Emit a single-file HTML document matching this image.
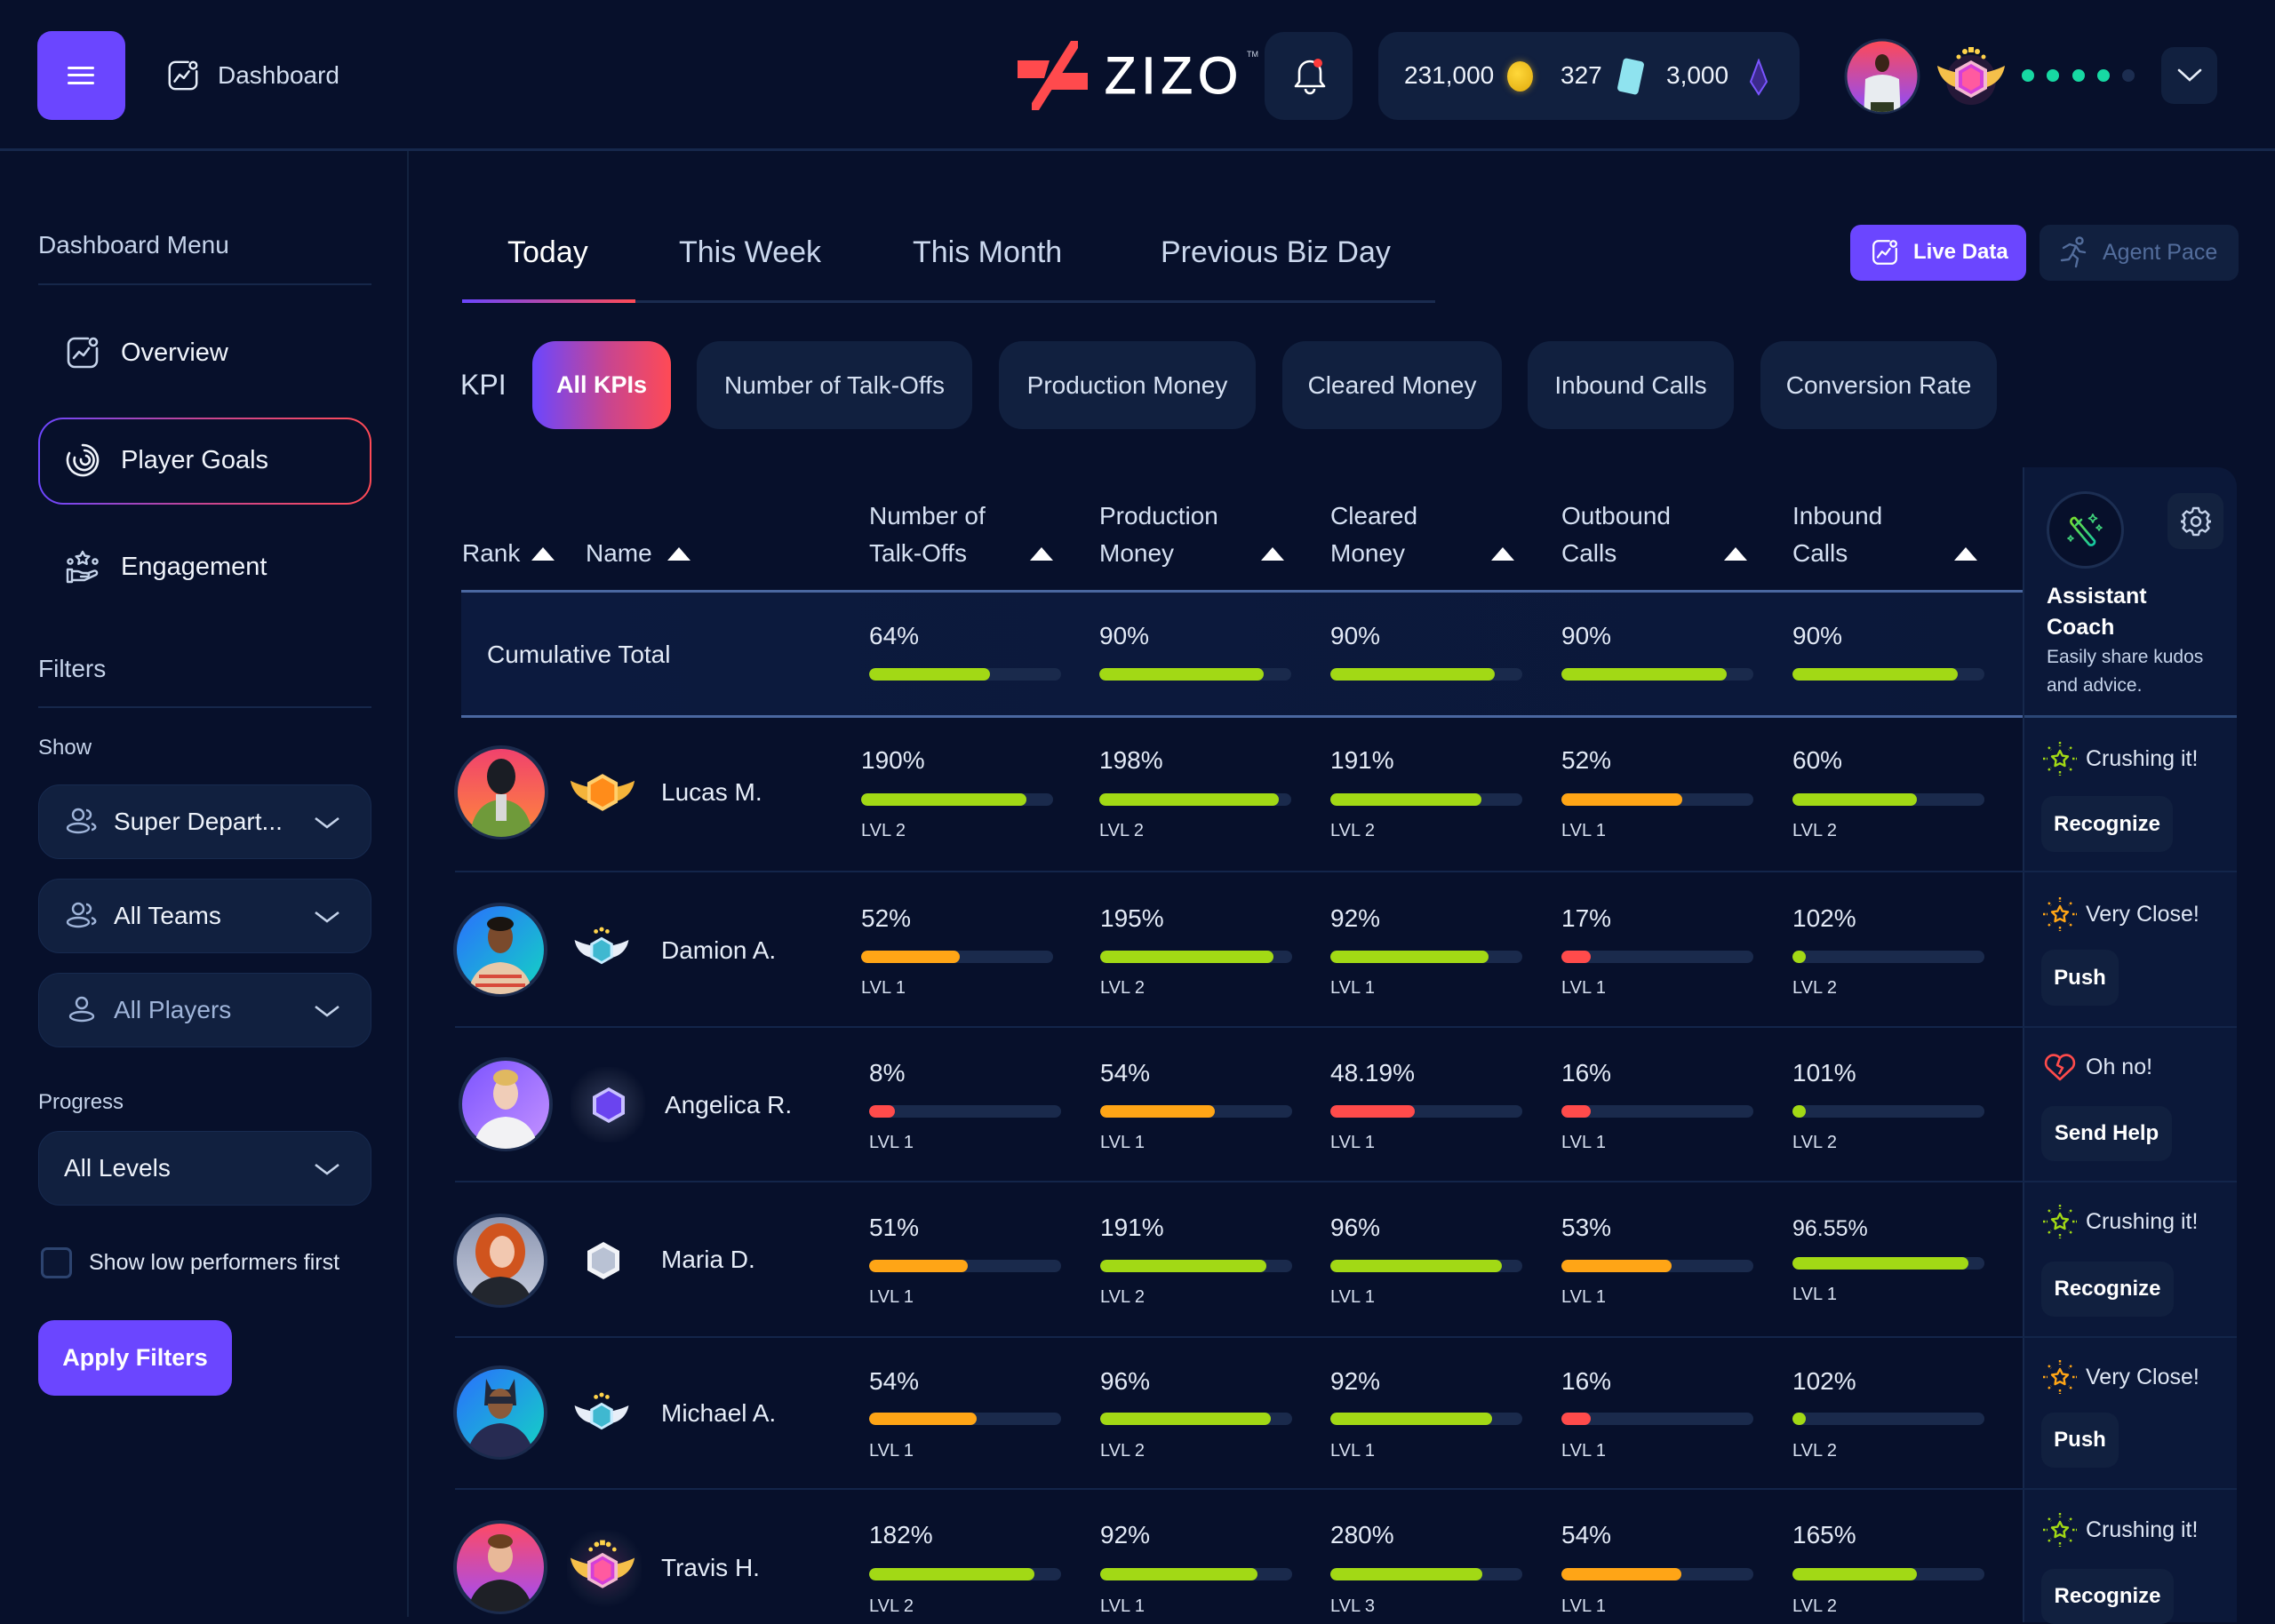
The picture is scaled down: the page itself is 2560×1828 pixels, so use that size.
<!DOCTYPE html>
<html><head><meta charset="utf-8">
<style>
*{box-sizing:border-box;margin:0;padding:0}
body{width:2560px;height:1820px;background:#07102b;overflow:hidden;position:relative;font-family:"Liberation Sans",sans-serif;color:#dfe7f5}
.a{position:absolute}
.t{position:absolute;white-space:nowrap;height:40px;line-height:40px}
.p{font-size:28px;color:#e3eaf6}
.l{font-size:20px;color:#d8e1f1}
.tr{position:absolute;height:14px;width:216px;border-radius:7px;background:#1a2a4c;overflow:hidden}
.f{position:absolute;left:0;top:0;height:14px;border-radius:7px}
.g{background:#a2d915}.o{background:#ffa516}.r{background:#ff4b4b}
.dd{position:absolute;left:43px;width:375px;height:84px;background:#11203f;border:1px solid #172a4f;border-radius:24px}
.dd .tx{position:absolute;left:84px;top:0;line-height:82px;font-size:28px;color:#eef3fb;white-space:nowrap}
.dd svg.ic{position:absolute;left:29px;top:24px}
.dd svg.ch{position:absolute;left:309px;top:35px}
.pill{position:absolute;top:384px;height:99px;border-radius:26px;background:#11203f;font-size:28px;color:#d5e0f2;line-height:99px;text-align:center;white-space:nowrap}
.tri{position:absolute;width:0;height:0;border-left:13px solid transparent;border-right:13px solid transparent;border-bottom:15px solid #fff}
.sep{position:absolute;left:512px;width:2005px;height:2px;background:#13254a}
.btn{position:absolute;left:2297px;height:62px;background:#11203f;border-radius:14px;font-size:24px;font-weight:bold;color:#fff;line-height:62px;text-align:center}
.hd{font-size:28px;color:#d5e0f2}
.nm{font-size:28px;color:#e6edf8}
.st{font-size:25px;color:#dfe7f5}
.tab{position:absolute;top:259px;height:50px;line-height:50px;font-size:34px;color:#cbd8ee;white-space:nowrap}
.av{position:absolute;width:108px;height:108px}
</style></head><body>

<!-- HEADER -->
<div class="a" style="left:0;top:167px;width:2560px;height:3px;background:#16284c"></div>
<div class="a" style="left:42px;top:35px;width:99px;height:100px;background:#6b46ff;border-radius:16px"></div>
<div class="a" style="left:76px;top:75px;width:30px;height:3px;background:#fff;border-radius:2px"></div>
<div class="a" style="left:76px;top:83px;width:30px;height:3px;background:#fff;border-radius:2px"></div>
<div class="a" style="left:76px;top:92px;width:30px;height:3px;background:#fff;border-radius:2px"></div>
<svg class="a" style="left:187px;top:66px" width="38" height="38" viewBox="0 0 40 40" fill="none" stroke="#e6edf8" stroke-width="2.6" stroke-linecap="round" stroke-linejoin="round"><path d="M26 4H11a7 7 0 0 0-7 7v18a7 7 0 0 0 7 7h18a7 7 0 0 0 7-7V15"/><circle cx="32" cy="8" r="4"/><path d="M10 27l6-8 5 4 6-8"/></svg>
<div class="t" style="left:245px;top:65px;font-size:28px;color:#d3def0">Dashboard</div>

<!-- logo -->
<svg class="a" style="left:1145px;top:46px" width="80" height="80" viewBox="0 0 80 80"><polygon points="0,22 36,22 30,42 0,42" fill="#ff4a4d"/><polygon points="44,36 79,36 79,55 38,55" fill="#ff4a4d"/><polygon points="60,0 68,0 68,8 24,78 16,78 16,70" fill="#ff4a4d"/></svg>
<div class="t" style="left:1243px;top:58px;height:56px;line-height:56px;font-size:58px;color:#fff;letter-spacing:6px;-webkit-text-stroke:1px #fff">ZIZO</div>
<div class="t" style="left:1403px;top:54px;height:14px;line-height:14px;font-size:9px;color:#cfd8e8">TM</div>

<div class="a" style="left:1423px;top:36px;width:99px;height:99px;background:#11203f;border-radius:22px"></div>
<svg class="a" style="left:1452px;top:62px" width="44" height="46" viewBox="0 0 44 46" fill="none" stroke="#fff" stroke-width="2.6" stroke-linejoin="round"><path d="M10 30V19a12 12 0 0 1 24 0v11l4 5H6z"/><path d="M17 38a5 5 0 0 0 10 0"/><circle cx="31" cy="9" r="5" fill="#ff3b3b" stroke="none"/></svg>

<div class="a" style="left:1551px;top:36px;width:474px;height:99px;background:#11203f;border-radius:22px"></div>
<div class="t" style="left:1580px;top:65px;font-size:28px;color:#eef3fb">231,000</div>
<div class="a" style="left:1696px;top:69px;width:29px;height:34px;border-radius:50%;background:radial-gradient(circle at 40% 40%,#ffd83a,#e0a90c);box-shadow:0 0 8px rgba(255,200,40,.5)"></div>
<div class="t" style="left:1756px;top:65px;font-size:28px;color:#eef3fb">327</div>
<div class="a" style="left:1823px;top:67px;width:24px;height:38px;border-radius:4px;background:#8fe3ef;transform:rotate(12deg)"></div>
<div class="t" style="left:1875px;top:65px;font-size:28px;color:#eef3fb">3,000</div>
<svg class="a" style="left:1966px;top:66px" width="26" height="42" viewBox="0 0 26 42"><path d="M13 2L22 26 13 40 4 26z" fill="#3c2a8c" stroke="#7a55ff" stroke-width="2"/></svg>

<svg class="a" style="left:2075px;top:43px" width="86" height="86" viewBox="0 0 86 86"><defs><linearGradient id="ha" x1="0" y1="0" x2="0" y2="1"><stop offset="0" stop-color="#ff4a55"/><stop offset="1" stop-color="#8b4dff"/></linearGradient><clipPath id="hc"><circle cx="43" cy="43" r="40"/></clipPath></defs><circle cx="43" cy="43" r="41" fill="url(#ha)" stroke="#1b2b4d" stroke-width="3"/><g clip-path="url(#hc)"><ellipse cx="43" cy="28" rx="8" ry="10" fill="#3a2418"/><path d="M22 90 L24 46 Q43 36 62 46 L64 90z" fill="#e8ecf0"/><rect x="30" y="72" width="26" height="20" fill="#2f3a22"/></g></svg>
<svg class="a" style="left:2178px;top:52px" width="80" height="66" viewBox="0 0 80 66"><circle cx="40" cy="38" r="28" fill="#ff4fa0" opacity=".12"/><path d="M26 30C16 28 8 25 2 22 4 34 12 44 26 47z" fill="#f5c04a"/><path d="M54 30C64 28 72 25 78 22 76 34 68 44 54 47z" fill="#f5c04a"/><polygon points="40,16 58,26 58,48 40,58 22,48 22,26" fill="#f3b8d0"/><polygon points="40,20 54,28 54,46 40,54 26,46 26,28" fill="#d43fd8"/><polygon points="40,24 50,30 50,44 40,50 30,44 30,30" fill="#ff5aa0"/><circle cx="26" cy="12" r="2.5" fill="#ffd34a"/><circle cx="33" cy="6" r="3" fill="#ffd34a"/><rect x="37" y="1" width="6" height="6" fill="#ffd34a"/><circle cx="47" cy="6" r="3" fill="#ffd34a"/><circle cx="54" cy="12" r="2.5" fill="#ffd34a"/></svg>
<div class="a" style="left:2275px;top:78px;width:14px;height:14px;border-radius:50%;background:#17d9a3"></div>
<div class="a" style="left:2303px;top:78px;width:14px;height:14px;border-radius:50%;background:#17d9a3"></div>
<div class="a" style="left:2332px;top:78px;width:14px;height:14px;border-radius:50%;background:#17d9a3"></div>
<div class="a" style="left:2360px;top:78px;width:14px;height:14px;border-radius:50%;background:#17d9a3"></div>
<div class="a" style="left:2388px;top:78px;width:14px;height:14px;border-radius:50%;background:#1c2d50"></div>
<div class="a" style="left:2432px;top:53px;width:63px;height:64px;background:#11203f;border-radius:14px"></div>
<svg class="a" style="left:2450px;top:77px" width="28" height="16" viewBox="0 0 28 16"><path d="M2 2l12 11 12-11" stroke="#e6edf8" stroke-width="2.6" fill="none" stroke-linecap="round"/></svg>

<!-- SIDEBAR -->
<div class="a" style="left:458px;top:170px;width:2px;height:1650px;background:#13223f"></div>
<div class="t" style="left:43px;top:256px;font-size:28px;color:#c5d3ea">Dashboard Menu</div>
<div class="a" style="left:43px;top:319px;width:375px;height:2px;background:#16274a"></div>

<svg class="a" style="left:73px;top:377px" width="40" height="40" viewBox="0 0 40 40" fill="none" stroke="#c5d3ea" stroke-width="2.6" stroke-linecap="round" stroke-linejoin="round"><path d="M26 4H11a7 7 0 0 0-7 7v18a7 7 0 0 0 7 7h18a7 7 0 0 0 7-7V15"/><circle cx="32" cy="8" r="4"/><path d="M10 26l6-7 5 4 6-8"/></svg>
<div class="t" style="left:136px;top:377px;font-size:29px;color:#f0f4fb">Overview</div>

<div class="a" style="left:43px;top:470px;width:375px;height:98px;border-radius:28px;border:2px solid transparent;background:linear-gradient(#07102b,#07102b) padding-box,linear-gradient(90deg,#6b46ff,#c84590 50%,#ff4a55) border-box"></div>
<svg class="a" style="left:73px;top:498px" width="40" height="40" viewBox="0 0 40 40" fill="none" stroke="#f0f4fb" stroke-width="2.6" stroke-linecap="round"><path d="M20 3a17 17 0 1 1-15 9"/><path d="M22 9a11 11 0 1 1-11 8"/><path d="M24 15a5 5 0 1 1-6 4"/></svg>
<div class="t" style="left:136px;top:498px;font-size:29px;color:#f0f4fb">Player Goals</div>

<svg class="a" style="left:73px;top:618px" width="40" height="40" viewBox="0 0 40 40" fill="none" stroke="#c5d3ea" stroke-width="2.4" stroke-linecap="round" stroke-linejoin="round"><path d="M20 3l2.4 4.6 5 .7-3.6 3.5.9 5-4.7-2.4-4.7 2.4.9-5-3.6-3.5 5-.7z"/><circle cx="6" cy="14" r="2.6"/><circle cx="34" cy="14" r="2.6"/><path d="M3 23h5v14H3z"/><path d="M8 25h6c3 0 4 2 7 2h4a2 2 0 0 1 0 4h-7"/><path d="M8 35h14l13-6a2.5 2.5 0 0 0-2-4.5l-8 3"/></svg>
<div class="t" style="left:136px;top:618px;font-size:29px;color:#f0f4fb">Engagement</div>

<div class="t" style="left:43px;top:733px;font-size:28px;color:#c5d3ea">Filters</div>
<div class="a" style="left:43px;top:795px;width:375px;height:2px;background:#16274a"></div>
<div class="t" style="left:43px;top:822px;font-size:24px;color:#c5d3ea">Show</div>

<div class="dd" style="top:883px"><svg class="ic" width="38" height="32" viewBox="0 0 38 32" fill="none" stroke="#9fb4d9" stroke-width="2.4"><circle cx="15" cy="9" r="6"/><ellipse cx="15" cy="24" rx="12" ry="5"/><path d="M24 4a5 5 0 0 1 0 10"/><path d="M30 19c3 1 5 3 4 5-1 1-2 2-4 2"/></svg><div class="tx">Super Depart...</div><svg class="ch" width="30" height="14" viewBox="0 0 30 14"><path d="M2 2l13 10 13-10" stroke="#c5d3ea" stroke-width="2.6" fill="none"/></svg></div>
<div class="dd" style="top:989px"><svg class="ic" width="38" height="32" viewBox="0 0 38 32" fill="none" stroke="#9fb4d9" stroke-width="2.4"><circle cx="15" cy="9" r="6"/><ellipse cx="15" cy="24" rx="12" ry="5"/><path d="M24 4a5 5 0 0 1 0 10"/><path d="M30 19c3 1 5 3 4 5-1 1-2 2-4 2"/></svg><div class="tx">All Teams</div><svg class="ch" width="30" height="14" viewBox="0 0 30 14"><path d="M2 2l13 10 13-10" stroke="#c5d3ea" stroke-width="2.6" fill="none"/></svg></div>
<div class="dd" style="top:1095px"><svg class="ic" width="38" height="32" viewBox="0 0 38 32" fill="none" stroke="#9fb4d9" stroke-width="2.4"><circle cx="19" cy="9" r="6"/><ellipse cx="19" cy="24" rx="13" ry="5"/></svg><div class="tx" style="color:#9fb4d9">All Players</div><svg class="ch" width="30" height="14" viewBox="0 0 30 14"><path d="M2 2l13 10 13-10" stroke="#c5d3ea" stroke-width="2.6" fill="none"/></svg></div>

<div class="t" style="left:43px;top:1221px;font-size:24px;color:#c5d3ea">Progress</div>
<div class="dd" style="top:1273px"><div class="tx" style="left:28px">All Levels</div><svg class="ch" width="30" height="14" viewBox="0 0 30 14"><path d="M2 2l13 10 13-10" stroke="#c5d3ea" stroke-width="2.6" fill="none"/></svg></div>

<div class="a" style="left:46px;top:1404px;width:35px;height:35px;border:3px solid #2d4470;border-radius:7px;background:#0b1633"></div>
<div class="t" style="left:100px;top:1401px;font-size:25px;color:#dfe7f5">Show low performers first</div>
<div class="a" style="left:43px;top:1486px;width:218px;height:85px;background:#6b46ff;border-radius:18px;color:#fff;font-weight:bold;font-size:27px;line-height:85px;text-align:center">Apply Filters</div>

<!-- MAIN TABS -->
<div class="tab" style="left:571px;color:#fff">Today</div>
<div class="tab" style="left:764px">This Week</div>
<div class="tab" style="left:1027px">This Month</div>
<div class="tab" style="left:1306px">Previous Biz Day</div>
<div class="a" style="left:520px;top:338px;width:1095px;height:3px;background:#1a2b4f"></div>
<div class="a" style="left:520px;top:337px;width:195px;height:4px;background:linear-gradient(90deg,#6b46ff,#ff4a55)"></div>

<div class="a" style="left:2082px;top:253px;width:198px;height:63px;background:#6b46ff;border-radius:12px"></div>
<svg class="a" style="left:2105px;top:268px" width="32" height="32" viewBox="0 0 40 40" fill="none" stroke="#fff" stroke-width="2.8" stroke-linecap="round" stroke-linejoin="round"><path d="M26 4H11a7 7 0 0 0-7 7v18a7 7 0 0 0 7 7h18a7 7 0 0 0 7-7V15"/><circle cx="32" cy="8" r="4"/><path d="M10 27l6-8 5 4 6-8"/></svg>
<div class="t" style="left:2153px;top:264px;font-size:24px;font-weight:bold;color:#fff">Live Data</div>
<div class="a" style="left:2295px;top:253px;width:224px;height:63px;background:#11203f;border-radius:12px"></div>
<svg class="a" style="left:2318px;top:266px" width="32" height="36" viewBox="0 0 32 36" fill="none" stroke="#536d9c" stroke-width="2.4" stroke-linecap="round" stroke-linejoin="round"><circle cx="22" cy="5" r="3.5"/><path d="M4 13l7-4 7 2-4 9 6 5-2 9"/><path d="M14 20l-4 6-8 1"/><path d="M18 11l4 6 6 1"/></svg>
<div class="t" style="left:2366px;top:264px;font-size:25px;color:#536d9c">Agent Pace</div>

<!-- KPI PILLS -->
<div class="t" style="left:518px;top:408px;height:50px;line-height:50px;font-size:32px;color:#d5e0f2">KPI</div>
<div class="pill" style="left:599px;width:156px;background:linear-gradient(90deg,#6b46ff,#c84590 55%,#ff4a55);color:#fff;font-weight:bold;font-size:27px">All KPIs</div>
<div class="pill" style="left:784px;width:310px">Number of Talk-Offs</div>
<div class="pill" style="left:1124px;width:289px">Production Money</div>
<div class="pill" style="left:1443px;width:247px">Cleared Money</div>
<div class="pill" style="left:1719px;width:232px">Inbound Calls</div>
<div class="pill" style="left:1981px;width:266px">Conversion Rate</div>

<!-- RIGHT PANEL -->
<div class="a" style="left:2276px;top:526px;width:241px;height:1300px;background:#0b1839;border-top-right-radius:22px;border-left:2px solid #16284c"></div>

<!-- TABLE HEADER -->
<div class="t hd" style="left:520px;top:603px">Rank</div><div class="tri" style="left:598px;top:616px"></div>
<div class="t hd" style="left:659px;top:603px">Name</div><div class="tri" style="left:751px;top:616px"></div>
<div class="t hd" style="left:978px;top:561px">Number of</div><div class="t hd" style="left:978px;top:603px">Talk-Offs</div><div class="tri" style="left:1159px;top:616px"></div>
<div class="t hd" style="left:1237px;top:561px">Production</div><div class="t hd" style="left:1237px;top:603px">Money</div><div class="tri" style="left:1419px;top:616px"></div>
<div class="t hd" style="left:1497px;top:561px">Cleared</div><div class="t hd" style="left:1497px;top:603px">Money</div><div class="tri" style="left:1678px;top:616px"></div>
<div class="t hd" style="left:1757px;top:561px">Outbound</div><div class="t hd" style="left:1757px;top:603px">Calls</div><div class="tri" style="left:1940px;top:616px"></div>
<div class="t hd" style="left:2017px;top:561px">Inbound</div><div class="t hd" style="left:2017px;top:603px">Calls</div><div class="tri" style="left:2199px;top:616px"></div>

<!-- assistant coach -->
<div class="a" style="left:2303px;top:553px;width:87px;height:87px;border-radius:50%;border:3px solid #1c2e52;background:#07102b"></div>
<svg class="a" style="left:2325px;top:575px" width="44" height="44" viewBox="0 0 44 44" fill="none" stroke-width="2.6" stroke-linecap="round" stroke-linejoin="round"><defs><linearGradient id="wg" x1="0" y1="0" x2="1" y2="1"><stop offset="0" stop-color="#7be02c"/><stop offset="1" stop-color="#12c9a6"/></linearGradient></defs><path d="M10 8l22 26a4 4 0 0 1-6 4L6 14a4 4 0 0 1 4-6z" stroke="url(#wg)"/><path d="M11 16l6-6" stroke="url(#wg)"/><path d="M30 4l1.5 3 3 1.5-3 1.5-1.5 3-1.5-3-3-1.5 3-1.5z" stroke="#3fd07a" stroke-width="1.8"/><path d="M37 16l1 2 2 1-2 1-1 2-1-2-2-1 2-1z" stroke="#3fd07a" stroke-width="1.6"/><path d="M5 28l1 2 2 1-2 1-1 2-1-2-2-1 2-1z" stroke="#3fd07a" stroke-width="1.6"/></svg>
<div class="a" style="left:2439px;top:555px;width:63px;height:63px;background:#13223f;border-radius:14px"></div>
<svg class="a" style="left:2454px;top:570px" width="34" height="34" viewBox="0 0 34 34" fill="none" stroke="#c5d3ea" stroke-width="2.4" stroke-linejoin="round"><path d="M14 2h6l1 4 3 1.5 3.5-2 4 4-2 3.5L30.5 16l3.5 1v0-0 0h0v0l0 0 0 0-0 0v0l0 0v0l0 0 0 0-.0 0V17l-.0 .0L30.5 18 29.5 21l2 3.5-4 4-3.5-2L21 28l-1 4h-6l-1-4-3-1.5-3.5 2-4-4 2-3.5L3.5 18 0 17v0l0-0V17l3.5-1L4.5 13l-2-3.5 4-4 3.5 2L13 6z"/><circle cx="17" cy="17" r="5"/></svg>
<div class="t" style="left:2303px;top:651px;font-size:25px;font-weight:bold;color:#fff">Assistant</div>
<div class="t" style="left:2303px;top:686px;font-size:25px;font-weight:bold;color:#fff">Coach</div>
<div class="t" style="left:2303px;top:720px;font-size:21px;color:#c5d3ea">Easily share kudos</div>
<div class="t" style="left:2303px;top:752px;font-size:21px;color:#c5d3ea">and advice.</div>

<!-- cumulative row -->
<div class="a" style="left:519px;top:666px;width:1757px;height:140px;background:linear-gradient(90deg,#0c1a3e,#0b1839)"></div>
<div class="a" style="left:519px;top:664px;width:1757px;height:3px;background:#4a67a0"></div>
<div class="a" style="left:519px;top:805px;width:1757px;height:3px;background:#4a67a0"></div>
<div class="a" style="left:2278px;top:805px;width:239px;height:3px;background:#2b4675"></div>
<div class="t p" style="left:548px;top:717px">Cumulative Total</div>
<div class="t p" style="left:978px;top:696px">64%</div><div class="tr" style="left:978px;top:752px"><div class="f g" style="width:136px"></div></div>
<div class="t p" style="left:1237px;top:696px">90%</div><div class="tr" style="left:1237px;top:752px"><div class="f g" style="width:185px"></div></div>
<div class="t p" style="left:1497px;top:696px">90%</div><div class="tr" style="left:1497px;top:752px"><div class="f g" style="width:185px"></div></div>
<div class="t p" style="left:1757px;top:696px">90%</div><div class="tr" style="left:1757px;top:752px"><div class="f g" style="width:186px"></div></div>
<div class="t p" style="left:2017px;top:696px">90%</div><div class="tr" style="left:2017px;top:752px"><div class="f g" style="width:186px"></div></div>

<!-- separators -->
<div class="sep" style="top:980px"></div>
<div class="sep" style="top:1155px"></div>
<div class="sep" style="top:1329px"></div>
<div class="sep" style="top:1504px"></div>
<div class="sep" style="top:1675px"></div>

<!-- ROW 1 Lucas -->
<svg class="av" style="left:510px;top:838px" viewBox="0 0 108 108"><defs><linearGradient id="a1" x1="0" y1="0" x2="0" y2="1"><stop offset="0" stop-color="#f0406e"/><stop offset="1" stop-color="#ff8a3a"/></linearGradient><clipPath id="c1"><circle cx="54" cy="54" r="50"/></clipPath></defs><circle cx="54" cy="54" r="51" fill="url(#a1)" stroke="#1b2b4d" stroke-width="4"/><g clip-path="url(#c1)"><ellipse cx="54" cy="36" rx="16" ry="20" fill="#1a1d24"/><path d="M18 112 Q20 64 54 62 Q88 64 90 112z" fill="#6f9a3a"/><rect x="48" y="56" width="12" height="30" fill="#d8d8d8"/></g></svg>
<svg class="a" style="left:640px;top:862px" width="76" height="60" viewBox="0 0 80 60"><path d="M26 24C16 22 8 19 2 16 4 28 12 38 26 41z" fill="#f4b43a"/><path d="M54 24C64 22 72 19 78 16 76 28 68 38 54 41z" fill="#f4b43a"/><polygon points="40,8 58,18 58,42 40,52 22,42 22,18" fill="#ffce6a"/><polygon points="40,13 54,21 54,39 40,47 26,39 26,21" fill="#ff8c1a"/></svg>
<div class="t nm" style="left:744px;top:872px">Lucas M.</div>
<div class="t p" style="left:969px;top:836px">190%</div><div class="tr" style="left:969px;top:893px"><div class="f g" style="width:186px"></div></div><div class="t l" style="left:969px;top:915px">LVL 2</div>
<div class="t p" style="left:1237px;top:836px">198%</div><div class="tr" style="left:1237px;top:893px"><div class="f g" style="width:202px"></div></div><div class="t l" style="left:1237px;top:915px">LVL 2</div>
<div class="t p" style="left:1497px;top:836px">191%</div><div class="tr" style="left:1497px;top:893px"><div class="f g" style="width:170px"></div></div><div class="t l" style="left:1497px;top:915px">LVL 2</div>
<div class="t p" style="left:1757px;top:836px">52%</div><div class="tr" style="left:1757px;top:893px"><div class="f o" style="width:136px"></div></div><div class="t l" style="left:1757px;top:915px">LVL 1</div>
<div class="t p" style="left:2017px;top:836px">60%</div><div class="tr" style="left:2017px;top:893px"><div class="f g" style="width:140px"></div></div><div class="t l" style="left:2017px;top:915px">LVL 2</div>

<!-- ROW 2 Damion -->
<svg class="av" style="left:509px;top:1015px" viewBox="0 0 108 108"><defs><linearGradient id="a2" x1="0" y1="0" x2="1" y2="1"><stop offset="0" stop-color="#2a6dff"/><stop offset="1" stop-color="#13d6c2"/></linearGradient><clipPath id="c2"><circle cx="54" cy="54" r="50"/></clipPath></defs><circle cx="54" cy="54" r="51" fill="url(#a2)" stroke="#1b2b4d" stroke-width="4"/><g clip-path="url(#c2)"><ellipse cx="54" cy="40" rx="14" ry="18" fill="#7a4a2c"/><ellipse cx="54" cy="25" rx="15" ry="8" fill="#1a1410"/><path d="M16 112 Q20 70 54 68 Q88 70 92 112z" fill="#e8c8a8"/><path d="M30 84h48M26 94h56" stroke="#d84a3a" stroke-width="4"/></g></svg>
<svg class="a" style="left:645px;top:1040px" width="64" height="52" viewBox="0 0 80 60"><path d="M26 28C16 26 8 23 2 20 4 32 12 42 26 45z" fill="#e8eef8"/><path d="M54 28C64 26 72 23 78 20 76 32 68 42 54 45z" fill="#e8eef8"/><polygon points="40,16 56,25 56,45 40,54 24,45 24,25" fill="#c7ecff"/><polygon points="40,20 52,27 52,43 40,50 28,43 28,27" fill="#3fb8d0"/><circle cx="32" cy="8" r="3" fill="#ffd34a"/><circle cx="40" cy="5" r="3.2" fill="#ffd34a"/><circle cx="48" cy="8" r="3" fill="#ffd34a"/></svg>
<div class="t nm" style="left:744px;top:1050px">Damion A.</div>
<div class="t p" style="left:969px;top:1014px">52%</div><div class="tr" style="left:969px;top:1070px"><div class="f o" style="width:111px"></div></div><div class="t l" style="left:969px;top:1092px">LVL 1</div>
<div class="t p" style="left:1238px;top:1014px">195%</div><div class="tr" style="left:1238px;top:1070px"><div class="f g" style="width:195px"></div></div><div class="t l" style="left:1238px;top:1092px">LVL 2</div>
<div class="t p" style="left:1497px;top:1014px">92%</div><div class="tr" style="left:1497px;top:1070px"><div class="f g" style="width:178px"></div></div><div class="t l" style="left:1497px;top:1092px">LVL 1</div>
<div class="t p" style="left:1757px;top:1014px">17%</div><div class="tr" style="left:1757px;top:1070px"><div class="f r" style="width:33px"></div></div><div class="t l" style="left:1757px;top:1092px">LVL 1</div>
<div class="t p" style="left:2017px;top:1014px">102%</div><div class="tr" style="left:2017px;top:1070px"><div class="f g" style="width:15px"></div></div><div class="t l" style="left:2017px;top:1092px">LVL 2</div>

<!-- ROW 3 Angelica -->
<svg class="av" style="left:515px;top:1189px" viewBox="0 0 108 108"><defs><linearGradient id="a3" x1="0" y1="0" x2="1" y2="1"><stop offset="0" stop-color="#7a52ff"/><stop offset="1" stop-color="#c694ff"/></linearGradient><clipPath id="c3"><circle cx="54" cy="54" r="50"/></clipPath></defs><circle cx="54" cy="54" r="51" fill="url(#a3)" stroke="#1b2b4d" stroke-width="4"/><g clip-path="url(#c3)"><ellipse cx="54" cy="42" rx="14" ry="18" fill="#f0cdb8"/><ellipse cx="54" cy="24" rx="14" ry="9" fill="#e0b860"/><path d="M16 112 Q20 70 54 68 Q88 70 92 112z" fill="#f2f2f4"/></g></svg>
<div class="a" style="left:642px;top:1201px;width:84px;height:85px;background:radial-gradient(circle,rgba(200,210,255,.22),rgba(255,255,255,.04) 60%,rgba(255,255,255,0) 75%)"></div>
<svg class="a" style="left:664px;top:1222px" width="42" height="44" viewBox="0 0 42 44"><polygon points="21,2 39,12 39,32 21,42 3,32 3,12" fill="#c8c0ff"/><polygon points="21,6 35,14 35,30 21,38 7,30 7,14" fill="#6a44ef"/></svg>
<div class="t nm" style="left:748px;top:1224px">Angelica R.</div>
<div class="t p" style="left:978px;top:1188px">8%</div><div class="tr" style="left:978px;top:1244px"><div class="f r" style="width:29px"></div></div><div class="t l" style="left:978px;top:1266px">LVL 1</div>
<div class="t p" style="left:1238px;top:1188px">54%</div><div class="tr" style="left:1238px;top:1244px"><div class="f o" style="width:129px"></div></div><div class="t l" style="left:1238px;top:1266px">LVL 1</div>
<div class="t p" style="left:1497px;top:1188px">48.19%</div><div class="tr" style="left:1497px;top:1244px"><div class="f r" style="width:95px"></div></div><div class="t l" style="left:1497px;top:1266px">LVL 1</div>
<div class="t p" style="left:1757px;top:1188px">16%</div><div class="tr" style="left:1757px;top:1244px"><div class="f r" style="width:33px"></div></div><div class="t l" style="left:1757px;top:1266px">LVL 1</div>
<div class="t p" style="left:2017px;top:1188px">101%</div><div class="tr" style="left:2017px;top:1244px"><div class="f g" style="width:15px"></div></div><div class="t l" style="left:2017px;top:1266px">LVL 2</div>

<!-- ROW 4 Maria -->
<svg class="av" style="left:509px;top:1365px" viewBox="0 0 108 108"><defs><linearGradient id="a4" x1="0" y1="0" x2="0" y2="1"><stop offset="0" stop-color="#8a94b0"/><stop offset="1" stop-color="#c8cede"/></linearGradient><clipPath id="c4"><circle cx="54" cy="54" r="50"/></clipPath></defs><circle cx="54" cy="54" r="51" fill="url(#a4)" stroke="#1b2b4d" stroke-width="4"/><g clip-path="url(#c4)"><ellipse cx="54" cy="44" rx="28" ry="32" fill="#d0541e"/><ellipse cx="56" cy="44" rx="14" ry="18" fill="#f2c8b0"/><path d="M16 112 Q20 74 54 72 Q88 74 92 112z" fill="#22262e"/></g></svg>
<svg class="a" style="left:658px;top:1396px" width="42" height="46" viewBox="0 0 42 46"><polygon points="21,2 39,12 39,34 21,44 3,34 3,12" fill="#f2f4f8"/><polygon points="21,8 34,15 34,31 21,38 8,31 8,15" fill="#b9c2d4"/></svg>
<div class="t nm" style="left:744px;top:1398px">Maria D.</div>
<div class="t p" style="left:978px;top:1362px">51%</div><div class="tr" style="left:978px;top:1418px"><div class="f o" style="width:111px"></div></div><div class="t l" style="left:978px;top:1440px">LVL 1</div>
<div class="t p" style="left:1238px;top:1362px">191%</div><div class="tr" style="left:1238px;top:1418px"><div class="f g" style="width:187px"></div></div><div class="t l" style="left:1238px;top:1440px">LVL 2</div>
<div class="t p" style="left:1497px;top:1362px">96%</div><div class="tr" style="left:1497px;top:1418px"><div class="f g" style="width:193px"></div></div><div class="t l" style="left:1497px;top:1440px">LVL 1</div>
<div class="t p" style="left:1757px;top:1362px">53%</div><div class="tr" style="left:1757px;top:1418px"><div class="f o" style="width:124px"></div></div><div class="t l" style="left:1757px;top:1440px">LVL 1</div>
<div class="t p" style="left:2017px;top:1363px;font-size:25px">96.55%</div><div class="tr" style="left:2017px;top:1415px"><div class="f g" style="width:198px"></div></div><div class="t l" style="left:2017px;top:1437px">LVL 1</div>

<!-- ROW 5 Michael -->
<svg class="av" style="left:509px;top:1536px" viewBox="0 0 108 108"><defs><linearGradient id="a5" x1="0" y1="0" x2="1" y2="1"><stop offset="0" stop-color="#2a6dff"/><stop offset="1" stop-color="#13d6c2"/></linearGradient><clipPath id="c5"><circle cx="54" cy="54" r="50"/></clipPath></defs><circle cx="54" cy="54" r="51" fill="url(#a5)" stroke="#1b2b4d" stroke-width="4"/><g clip-path="url(#c5)"><path d="M38 16l6 12h20l6-12 2 30H36z" fill="#22283a"/><ellipse cx="54" cy="44" rx="14" ry="17" fill="#8a5a3a"/><path d="M38 36h32v8H38z" fill="#22283a"/><path d="M14 112 Q20 68 54 66 Q88 68 94 112z" fill="#272b52"/></g></svg>
<svg class="a" style="left:645px;top:1564px" width="64" height="52" viewBox="0 0 80 60"><path d="M26 28C16 26 8 23 2 20 4 32 12 42 26 45z" fill="#e8eef8"/><path d="M54 28C64 26 72 23 78 20 76 32 68 42 54 45z" fill="#e8eef8"/><polygon points="40,16 56,25 56,45 40,54 24,45 24,25" fill="#c7ecff"/><polygon points="40,20 52,27 52,43 40,50 28,43 28,27" fill="#3fb8d0"/><circle cx="32" cy="8" r="3" fill="#ffd34a"/><circle cx="40" cy="5" r="3.2" fill="#ffd34a"/><circle cx="48" cy="8" r="3" fill="#ffd34a"/></svg>
<div class="t nm" style="left:744px;top:1571px">Michael A.</div>
<div class="t p" style="left:978px;top:1535px">54%</div><div class="tr" style="left:978px;top:1590px"><div class="f o" style="width:121px"></div></div><div class="t l" style="left:978px;top:1613px">LVL 1</div>
<div class="t p" style="left:1238px;top:1535px">96%</div><div class="tr" style="left:1238px;top:1590px"><div class="f g" style="width:192px"></div></div><div class="t l" style="left:1238px;top:1613px">LVL 2</div>
<div class="t p" style="left:1497px;top:1535px">92%</div><div class="tr" style="left:1497px;top:1590px"><div class="f g" style="width:182px"></div></div><div class="t l" style="left:1497px;top:1613px">LVL 1</div>
<div class="t p" style="left:1757px;top:1535px">16%</div><div class="tr" style="left:1757px;top:1590px"><div class="f r" style="width:33px"></div></div><div class="t l" style="left:1757px;top:1613px">LVL 1</div>
<div class="t p" style="left:2017px;top:1535px">102%</div><div class="tr" style="left:2017px;top:1590px"><div class="f g" style="width:15px"></div></div><div class="t l" style="left:2017px;top:1613px">LVL 2</div>

<!-- ROW 6 Travis -->
<svg class="av" style="left:509px;top:1710px" viewBox="0 0 108 108"><defs><linearGradient id="a6" x1="0" y1="0" x2="0" y2="1"><stop offset="0" stop-color="#ff4a62"/><stop offset="1" stop-color="#9b4dff"/></linearGradient><clipPath id="c6"><circle cx="54" cy="54" r="50"/></clipPath></defs><circle cx="54" cy="54" r="51" fill="url(#a6)" stroke="#1b2b4d" stroke-width="4"/><g clip-path="url(#c6)"><ellipse cx="54" cy="42" rx="14" ry="18" fill="#e8b898"/><ellipse cx="54" cy="25" rx="14" ry="8" fill="#6a4020"/><path d="M16 112 Q20 70 54 68 Q88 70 92 112z" fill="#1e2026"/></g></svg>
<div class="a" style="left:638px;top:1722px;width:84px;height:86px;background:radial-gradient(circle,rgba(255,90,170,.22),rgba(255,255,255,.03) 60%,rgba(255,255,255,0) 75%)"></div>
<svg class="a" style="left:640px;top:1732px" width="76" height="64" viewBox="0 0 80 66"><path d="M26 30C16 28 8 25 2 22 4 34 12 44 26 47z" fill="#f5c04a"/><path d="M54 30C64 28 72 25 78 22 76 34 68 44 54 47z" fill="#f5c04a"/><polygon points="40,16 58,26 58,48 40,58 22,48 22,26" fill="#f3b8d0"/><polygon points="40,20 54,28 54,46 40,54 26,46 26,28" fill="#d43fd8"/><polygon points="40,24 50,30 50,44 40,50 30,44 30,30" fill="#ff5aa0"/><circle cx="26" cy="12" r="2.5" fill="#ffd34a"/><circle cx="33" cy="6" r="3" fill="#ffd34a"/><rect x="37" y="1" width="6" height="6" fill="#ffd34a"/><circle cx="47" cy="6" r="3" fill="#ffd34a"/><circle cx="54" cy="12" r="2.5" fill="#ffd34a"/></svg>
<div class="t nm" style="left:744px;top:1745px">Travis H.</div>
<div class="t p" style="left:978px;top:1708px">182%</div><div class="tr" style="left:978px;top:1765px"><div class="f g" style="width:186px"></div></div><div class="t l" style="left:978px;top:1788px">LVL 2</div>
<div class="t p" style="left:1238px;top:1708px">92%</div><div class="tr" style="left:1238px;top:1765px"><div class="f g" style="width:177px"></div></div><div class="t l" style="left:1238px;top:1788px">LVL 1</div>
<div class="t p" style="left:1497px;top:1708px">280%</div><div class="tr" style="left:1497px;top:1765px"><div class="f g" style="width:171px"></div></div><div class="t l" style="left:1497px;top:1788px">LVL 3</div>
<div class="t p" style="left:1757px;top:1708px">54%</div><div class="tr" style="left:1757px;top:1765px"><div class="f o" style="width:135px"></div></div><div class="t l" style="left:1757px;top:1788px">LVL 1</div>
<div class="t p" style="left:2017px;top:1708px">165%</div><div class="tr" style="left:2017px;top:1765px"><div class="f g" style="width:140px"></div></div><div class="t l" style="left:2017px;top:1788px">LVL 2</div>

<!-- STATUS COLUMN -->
<svg class="a" style="left:2298px;top:834px" width="40" height="40" viewBox="0 0 40 40" fill="none" stroke="#a2d915" stroke-width="2.4" stroke-linejoin="round"><path d="M20 11l2.8 5.6 6.2.9-4.5 4.4 1 6.2-5.5-2.9-5.5 2.9 1-6.2-4.5-4.4 6.2-.9z"/><path d="M20 1v5M20 34v5M1 20h5M34 20h5M7 7l3 3M33 7l-3 3M7 33l3-3M33 33l-3-3" stroke-dasharray="2.5 1.5"/></svg>
<div class="t st" style="left:2347px;top:834px">Crushing it!</div>
<div class="btn" style="top:896px;width:148px;height:63px;line-height:63px">Recognize</div>

<svg class="a" style="left:2298px;top:1009px" width="40" height="40" viewBox="0 0 40 40" fill="none" stroke="#ffa516" stroke-width="2.4" stroke-linejoin="round"><path d="M20 11l2.8 5.6 6.2.9-4.5 4.4 1 6.2-5.5-2.9-5.5 2.9 1-6.2-4.5-4.4 6.2-.9z"/><path d="M20 1v5M20 34v5M1 20h5M34 20h5M7 7l3 3M33 7l-3 3M7 33l3-3M33 33l-3-3" stroke-dasharray="2.5 1.5"/></svg>
<div class="t st" style="left:2347px;top:1009px">Very Close!</div>
<div class="btn" style="top:1069px;width:87px;height:63px;line-height:63px">Push</div>

<svg class="a" style="left:2298px;top:1181px" width="40" height="40" viewBox="0 0 40 40" fill="none" stroke="#ff4b4b" stroke-width="2.6" stroke-linejoin="round"><path d="M20 34L6 21a8.5 8.5 0 0 1 14-11 8.5 8.5 0 0 1 14 11z"/><path d="M20 10l-3 8 6 3-4 7"/></svg>
<div class="t st" style="left:2347px;top:1181px">Oh no!</div>
<div class="btn" style="top:1245px;width:147px">Send Help</div>

<svg class="a" style="left:2298px;top:1355px" width="40" height="40" viewBox="0 0 40 40" fill="none" stroke="#a2d915" stroke-width="2.4" stroke-linejoin="round"><path d="M20 11l2.8 5.6 6.2.9-4.5 4.4 1 6.2-5.5-2.9-5.5 2.9 1-6.2-4.5-4.4 6.2-.9z"/><path d="M20 1v5M20 34v5M1 20h5M34 20h5M7 7l3 3M33 7l-3 3M7 33l3-3M33 33l-3-3" stroke-dasharray="2.5 1.5"/></svg>
<div class="t st" style="left:2347px;top:1355px">Crushing it!</div>
<div class="btn" style="top:1420px;width:149px">Recognize</div>

<svg class="a" style="left:2298px;top:1530px" width="40" height="40" viewBox="0 0 40 40" fill="none" stroke="#ffa516" stroke-width="2.4" stroke-linejoin="round"><path d="M20 11l2.8 5.6 6.2.9-4.5 4.4 1 6.2-5.5-2.9-5.5 2.9 1-6.2-4.5-4.4 6.2-.9z"/><path d="M20 1v5M20 34v5M1 20h5M34 20h5M7 7l3 3M33 7l-3 3M7 33l3-3M33 33l-3-3" stroke-dasharray="2.5 1.5"/></svg>
<div class="t st" style="left:2347px;top:1530px">Very Close!</div>
<div class="btn" style="top:1590px;width:87px">Push</div>

<svg class="a" style="left:2298px;top:1702px" width="40" height="40" viewBox="0 0 40 40" fill="none" stroke="#a2d915" stroke-width="2.4" stroke-linejoin="round"><path d="M20 11l2.8 5.6 6.2.9-4.5 4.4 1 6.2-5.5-2.9-5.5 2.9 1-6.2-4.5-4.4 6.2-.9z"/><path d="M20 1v5M20 34v5M1 20h5M34 20h5M7 7l3 3M33 7l-3 3M7 33l3-3M33 33l-3-3" stroke-dasharray="2.5 1.5"/></svg>
<div class="t st" style="left:2347px;top:1702px">Crushing it!</div>
<div class="btn" style="top:1766px;width:149px">Recognize</div>

</body></html>
